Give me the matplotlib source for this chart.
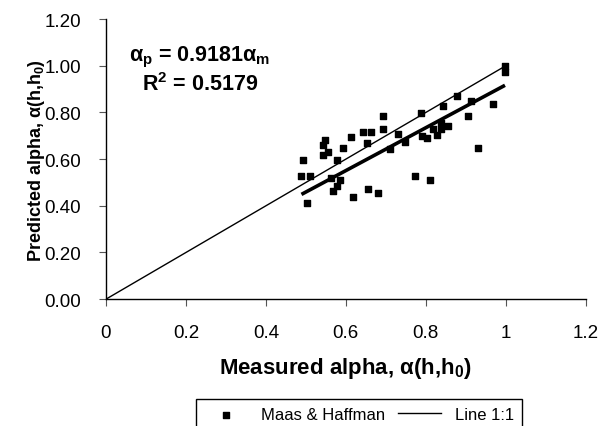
import matplotlib
matplotlib.use("Agg")
import matplotlib.pyplot as plt
import numpy as np

plt.rcParams['font.family'] = ['Liberation Sans', 'DejaVu Sans']
plt.rcParams['mathtext.fontset'] = 'custom'
plt.rcParams['mathtext.rm'] = 'Liberation Sans'
plt.rcParams['mathtext.bf'] = 'Liberation Sans:bold'

# measured vs predicted alpha
measured = [0.693, 0.693, 0.731, 0.643, 0.664, 0.614, 0.652, 0.548, 0.543, 0.556,
            0.543, 0.593, 0.577, 0.493, 0.489, 0.510, 0.564, 0.585, 0.577, 0.568,
            0.656, 0.681, 0.618, 0.502, 0.710, 0.998, 0.998, 0.877, 0.914, 0.968,
            0.843, 0.789, 0.906, 0.839, 0.856, 0.818, 0.839, 0.827, 0.791, 0.802,
            0.748, 0.931, 0.773, 0.810]
predicted = [0.786, 0.729, 0.707, 0.717, 0.717, 0.696, 0.667, 0.681, 0.660, 0.631,
             0.617, 0.646, 0.596, 0.596, 0.526, 0.526, 0.521, 0.511, 0.483, 0.464,
             0.471, 0.457, 0.436, 0.414, 0.643, 1.000, 0.974, 0.871, 0.850, 0.836,
             0.829, 0.797, 0.786, 0.754, 0.743, 0.729, 0.729, 0.703, 0.697, 0.689,
             0.674, 0.646, 0.526, 0.511]
slope = 0.9181
r2 = 0.5179
x_ticks = [0, 0.2, 0.4, 0.6, 0.8, 1, 1.2]
x_tick_labels = ["0", "0.2", "0.4", "0.6", "0.8", "1", "1.2"]
y_ticks = [0.0, 0.2, 0.4, 0.6, 0.8, 1.0, 1.2]

fig = plt.figure(figsize=(6.02, 4.27), dpi=100)
ax = fig.add_axes([0.176, 0.297, 0.797, 0.656])

ax.scatter(measured, predicted, marker='s', s=24, color='black', zorder=3,
           label="Maas & Haffman")
ax.plot([0, 1], [0, 1], color='black', lw=1.0, label="Line 1:1")
fit_x = np.array([min(measured), max(measured)])
ax.plot(fit_x, slope * fit_x, color='black', lw=2.6, solid_capstyle='butt')

ax.set_xlim(0, 1.2)
ax.set_ylim(0, 1.2)
ax.set_xticks(x_ticks)
ax.set_xticklabels(x_tick_labels)
ax.set_yticks(y_ticks)
ax.set_yticklabels([f"{v:.2f}" for v in y_ticks])
ax.tick_params(labelsize=13.5, length=5, width=0.8, direction='out', color='#555555')
ax.tick_params(axis='x', pad=13)
ax.tick_params(axis='y', pad=13)
for side in ['top', 'right']:
    ax.spines[side].set_visible(False)
for side in ['left', 'bottom']:
    ax.spines[side].set_linewidth(1.0)

ax.set_xlabel(r"Measured alpha, α(h,h$_\mathbf{0}$)", fontsize=16, fontweight='bold',
              labelpad=10)
ax.set_ylabel(r"Predicted alpha, α(h,h$_\mathbf{0}$)", fontsize=13, fontweight='bold',
              labelpad=-2)

ax.text(0.235, 1.04, r"α$_\mathbf{p}$ = 0.9181α$_\mathbf{m}$", fontsize=15.5,
        fontweight='bold', ha='center', va='center')
ax.text(0.235, 0.925, r"R$^\mathbf{2}$ = " + f"{r2}", fontsize=15.5,
        fontweight='bold', ha='center', va='center')

ax.legend(loc='upper center', bbox_to_anchor=(0.527, -0.325), ncol=2, fontsize=12,
          frameon=True, fancybox=False, edgecolor='black', framealpha=1,
          handlelength=2.6, columnspacing=0.8, borderpad=0.5, markerscale=0.8)

fig.savefig("out.png", dpi=100)
